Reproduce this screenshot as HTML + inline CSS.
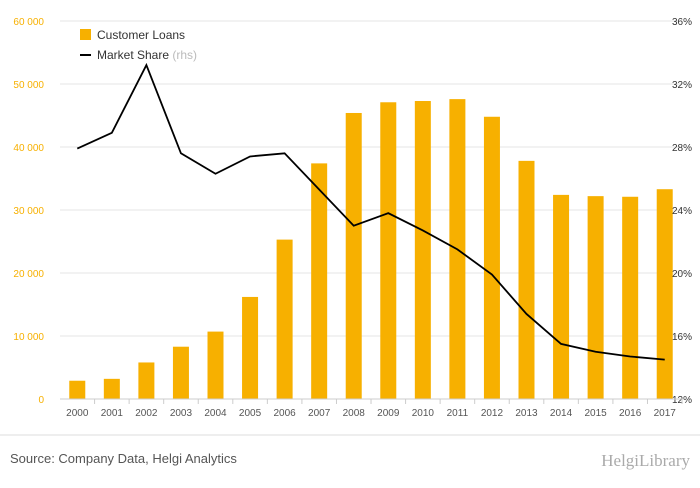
<!DOCTYPE html>
<html><head><meta charset="utf-8"><style>
body{margin:0;background:#fff;font-family:"Liberation Sans",sans-serif}
</style></head><body>
<svg id="chart" width="700" height="483" xmlns="http://www.w3.org/2000/svg" font-family="Liberation Sans, sans-serif">
<rect width="700" height="483" fill="#fff"/>
<g id="grid"></g><g id="bars"></g><g id="line"></g><g id="axes"></g>
<g>
<rect x="80" y="29" width="11" height="11" fill="#f7b000"/>
<text x="97" y="39" font-size="12" fill="#333">Customer Loans</text>
<line x1="80" y1="55" x2="91" y2="55" stroke="#000" stroke-width="2"/>
<text x="97" y="59" font-size="12" fill="#333">Market Share <tspan fill="#bbb">(rhs)</tspan></text>
</g>
<line x1="0" y1="435" x2="700" y2="435" stroke="#ddd"/>
<text x="10" y="463" font-size="13" fill="#555">Source: Company Data, Helgi Analytics</text>
<text x="690" y="466" font-size="17" fill="#aaa" text-anchor="end" font-family="Liberation Serif, serif">HelgiLibrary</text>
</svg>
<script>
const years=["2000","2001","2002","2003","2004","2005","2006","2007","2008","2009","2010","2011","2012","2013","2014","2015","2016","2017"];
const loans=[2900,3200,5800,8300,10700,16200,25300,37400,45400,47100,47300,47600,44800,37800,32400,32200,32100,33300];
const share=[27.9,28.9,33.2,27.6,26.3,27.4,27.6,25.3,23.0,23.8,22.7,21.5,19.9,17.4,15.5,15.0,14.7,14.5];
const leftTicks=[0,10000,20000,30000,40000,50000,60000];
const rightTicks=[12,16,20,24,28,32,36];
const NS="http://www.w3.org/2000/svg";
const x0=60,x1=682,yB=399,yT=21;
const xs=i=>x0+(x1-x0)/years.length*(i+0.5);
const yL=v=>yB-(v/60000)*(yB-yT);
const yR=v=>yB-((v-12)/24)*(yB-yT);
function mk(t,a,p){const e=document.createElementNS(NS,t);for(const k in a)e.setAttribute(k,a[k]);p.appendChild(e);return e;}
const g=document.getElementById('grid'),b=document.getElementById('bars'),l=document.getElementById('line'),ax=document.getElementById('axes');
leftTicks.forEach((v,i)=>{
 const ln=mk('line',{x1:x0,x2:x1,y1:yL(v),y2:yL(v),stroke:'#e6e6e6'},g);
 
 
 const t=mk('text',{x:44,y:yL(v)+4,'font-size':10,fill:'#f7b000','text-anchor':'end'},ax);
 t.textContent=v===0?'0':(v/1000)+' 000';
 
 
});
rightTicks.forEach(v=>{
 const t=mk('text',{x:692,y:yR(v)+4,'font-size':10,fill:'#333','text-anchor':'end'},ax);
 t.textContent=v+'%';
 
 
});
const base=mk('line',{x1:x0,x2:x1,y1:yB,y2:yB,stroke:'#ccc'},ax);


years.forEach((y,i)=>{
 const r=mk('rect',{x:xs(i)-8,y:yL(loans[i]),width:16,height:yB-yL(loans[i]),fill:'#f7b000'},b);
 
 
 const t=mk('text',{x:xs(i),y:416,'font-size':10,fill:'#555','text-anchor':'middle'},ax);
 t.textContent=y;
 
 
 const tk=mk('line',{x1:xs(i)+17.3,x2:xs(i)+17.3,y1:yB,y2:yB+5,stroke:'#ccc'},ax);
 
 
});
const p=mk('polyline',{points:share.map((v,i)=>xs(i)+','+yR(v)).join(' '),fill:'none',stroke:'#000','stroke-width':1.8},l);


</script>
</body></html>
